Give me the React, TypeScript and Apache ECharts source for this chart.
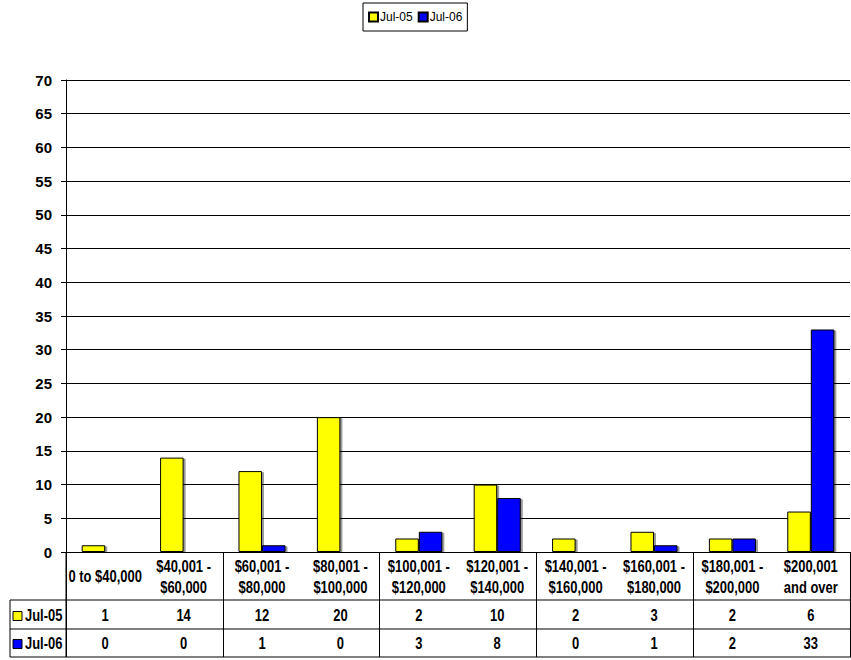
import React, { useEffect, useRef } from 'react';
import * as echarts from 'echarts';

const categories = [
  '0 to $40,000',
  '$40,001 -\n$60,000',
  '$60,001 -\n$80,000',
  '$80,001 -\n$100,000',
  '$100,001 -\n$120,000',
  '$120,001 -\n$140,000',
  '$140,001 -\n$160,000',
  '$160,001 -\n$180,000',
  '$180,001 -\n$200,000',
  '$200,001\nand over',
];
const seriesNames = ['Jul-05', 'Jul-06'];
const jul05 = [1, 14, 12, 20, 2, 10, 2, 3, 2, 6];
const jul06 = [0, 0, 1, 0, 3, 8, 0, 1, 2, 33];
const colors = ['#FFFF00', '#0000FF'];
const yMin = 0;
const yMax = 70;
const yInterval = 5;

const FONT = "Arial, 'Liberation Sans', sans-serif";
const SQUEEZE = 0.81;
const TFONT = `bold 16px ${FONT}`;

export default function App() {
  const ref = useRef<HTMLDivElement>(null);
  useEffect(() => {
    const chart = echarts.init(ref.current!, null, { renderer: 'svg' });
    const rowValues = [jul05, jul06];
    const barSeries = seriesNames.map((name, si) => ({
      name,
      type: 'bar',
      data: rowValues[si],
      barGap: '0%',
      barCategoryGap: '40%',
      itemStyle: {
        color: colors[si],
        borderColor: '#000',
        borderWidth: 1,
        shadowColor: 'rgba(0,0,0,0.4)',
        shadowOffsetX: 2,
        shadowOffsetY: 1,
        shadowBlur: 0,
      },
    }));
    const graphics: any[] = [];
    [600, 629, 657].forEach((y) => {
      graphics.push({
        type: 'line',
        shape: { x1: 10, y1: y, x2: 851, y2: y },
        style: { stroke: '#000', lineWidth: 1 },
        z: 100,
      });
    });
    graphics.push({
      type: 'line',
      shape: { x1: 10, y1: 600, x2: 10, y2: 657 },
      style: { stroke: '#000', lineWidth: 1 },
      z: 100,
    });
    graphics.push({
      type: 'line',
      shape: { x1: 66, y1: 552, x2: 66, y2: 657 },
      style: { stroke: '#000', lineWidth: 1 },
      z: 100,
    });
    const rowY = [616, 644];
    seriesNames.forEach((name, si) => {
      const cy = rowY[si];
      graphics.push({
        type: 'rect',
        shape: { x: 13, y: cy - 4.5, width: 9, height: 9 },
        style: { fill: colors[si], stroke: '#000', lineWidth: 1 },
        z: 100,
      });
      graphics.push({
        type: 'text',
        x: 25,
        y: cy,
        scaleX: SQUEEZE,
        style: {
          text: name,
          fill: '#000',
          font: TFONT,
          verticalAlign: 'middle',
          align: 'left',
        },
        z: 100,
      });
    });

    chart.setOption({
      animation: false,
      backgroundColor: '#fff',
      textStyle: { fontFamily: FONT },
      legend: {
        data: seriesNames,
        top: 3,
        left: 363,
        padding: [8, 5],
        itemGap: 5,
        itemWidth: 9,
        itemHeight: 9,
        borderColor: '#000',
        borderWidth: 1,
        icon: 'rect',
        textStyle: { fontSize: 12, color: '#000', fontFamily: FONT, padding: [0, 0, 0, -3] },
        itemStyle: { shadowColor: 'transparent', shadowOffsetX: 0, shadowOffsetY: 0 },
      },
      grid: { left: 66, right: 1, top: 80, bottom: 108, containLabel: false },
      xAxis: {
        type: 'category',
        data: categories,
        position: 'bottom',
        axisLine: { show: true, lineStyle: { color: '#000', width: 1 } },
        axisTick: { show: true, length: 105, lineStyle: { color: '#000', width: 1 } },
        splitLine: { show: false },
        axisLabel: { show: false },
      },
      yAxis: {
        type: 'value',
        min: yMin,
        max: yMax,
        interval: yInterval,
        axisLine: { show: true, lineStyle: { color: '#000', width: 1 } },
        axisTick: { show: true, length: 5, lineStyle: { color: '#000' } },
        splitLine: { show: true, lineStyle: { color: '#000', width: 1 } },
        axisLabel: {
          margin: 14,
          fontSize: 15,
          fontWeight: 'bold',
          color: '#000',
          fontFamily: FONT,
        },
      },
      series: barSeries,
      graphic: graphics,
    });

    // Data table cells, placed with the category axis's scale.
    const y0 = chart.convertToPixel({ yAxisIndex: 0 }, 0) as number;
    const cell = (text: string, x: number, y: number) => ({
      type: 'text',
      x,
      y,
      scaleX: SQUEEZE,
      style: {
        text,
        fill: '#000',
        font: TFONT,
        lineHeight: 21,
        align: 'center',
        verticalAlign: 'middle',
      },
      z: 100,
    });
    const cells: any[] = [];
    categories.forEach((c, i) => {
      const x = chart.convertToPixel({ xAxisIndex: 0 }, i) as number;
      cells.push(cell(c, x, y0 + 25));
      rowValues.forEach((vals, si) => cells.push(cell(String(vals[i]), x, rowY[si])));
    });
    chart.setOption({ graphic: [...graphics, ...cells] });

    return () => chart.dispose();
  }, []);
  return (
    <div
      ref={ref}
      style={{ position: 'absolute', left: 0, top: 0, width: 851, height: 660 }}
    />
  );
}
